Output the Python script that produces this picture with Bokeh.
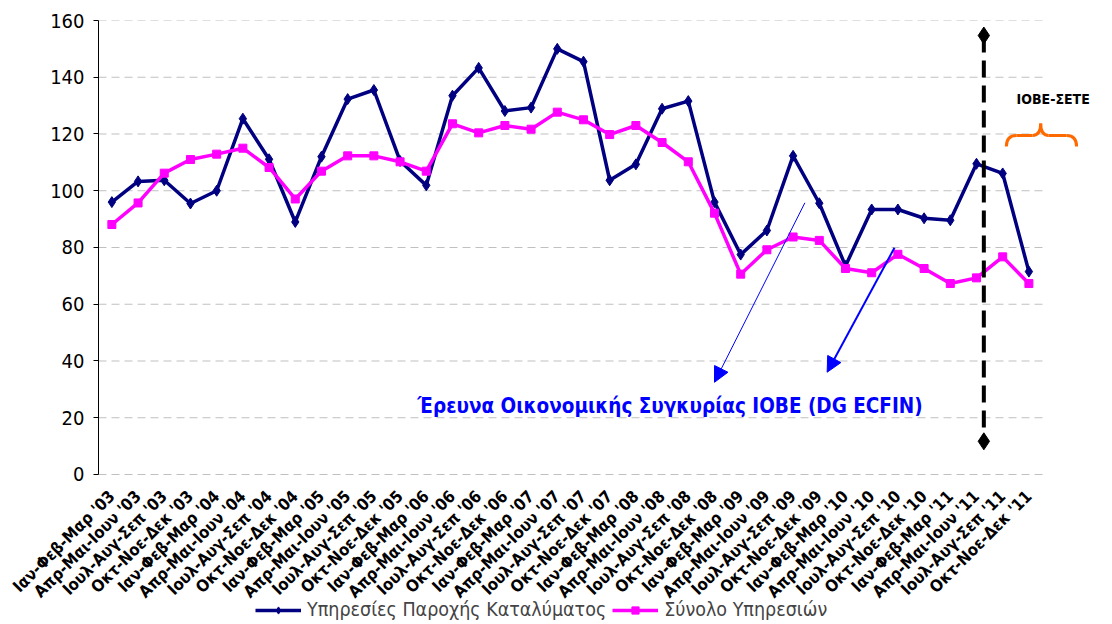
import math
from bokeh.plotting import figure
from bokeh.models import (FixedTicker, Legend, LegendItem, Arrow, NormalHead, Range1d)
from bokeh.core.properties import value
from bokeh.embed import file_html
from bokeh.resources import INLINE

# ---------------- data ----------------
quarters = ["Ιαν-Φεβ-Μαρ", "Απρ-Μαι-Ιουν", "Ιουλ-Αυγ-Σεπ", "Οκτ-Νοε-Δεκ"]
years = ["03", "04", "05", "06", "07", "08", "09", "10", "11"]
categories = [f"{q} '{y}" for y in years for q in quarters]

accommodation = [96.0, 103.3, 103.7, 95.5, 100.0, 125.4, 111.1, 89.0, 112.0, 132.3,
                 135.5, 110.5, 101.9, 133.5, 143.3, 128.1, 129.3, 150.0, 145.5, 103.7,
                 109.3, 128.9, 131.6, 96.0, 77.5, 86.0, 112.3, 95.6, 73.5, 93.4,
                 93.4, 90.3, 89.6, 109.5, 106.1, 71.5]
services = [88.1, 95.7, 106.2, 111.0, 112.9, 115.0, 108.2, 97.1, 106.9, 112.3,
            112.3, 110.2, 106.9, 123.6, 120.4, 123.0, 121.7, 127.7, 125.0, 119.8,
            123.0, 117.0, 110.2, 92.1, 70.6, 79.2, 83.7, 82.5, 72.6, 71.1,
            77.6, 72.6, 67.3, 69.3, 76.7, 67.3]

series_names = ["Υπηρεσίες Παροχής Καταλύματος", "Σύνολο Υπηρεσιών"]
y_ticks = [0, 20, 40, 60, 80, 100, 120, 140, 160]
note_text = "Έρευνα Οικονομικής Συγκυρίας ΙΟΒΕ (DG ECFIN)"
iobe_sete_text = "ΙΟΒΕ-ΣΕΤΕ"

xs = list(range(len(categories)))

FONT = "DejaVu Sans Condensed"

# frame covers the plot plus the strip below it that holds the labels and legend
Y_BOTTOM = -52.16          # value at the bottom edge of the frame (legend strip)
p = figure(frame_width=998, frame_height=602, output_backend="svg", toolbar_location=None,
           x_range=Range1d(-0.51, 37.58), y_range=Range1d(Y_BOTTOM, 160),
           min_border_left=98, min_border_right=8, min_border_top=20,
           min_border_bottom=0)
p.outline_line_color = None
p.background_fill_color = "white"
p.border_fill_color = "white"
p.xgrid.visible = False
p.ygrid.visible = False

# dashed horizontal gridlines (ending before the annotation area)
p.segment(x0=[-0.51] * len(y_ticks), y0=y_ticks, x1=[35.53] * len(y_ticks), y1=y_ticks,
          line_color="#c0c0c0", line_width=1, line_dash="8 5")

# y axis
p.yaxis.ticker = FixedTicker(ticks=y_ticks)
p.yaxis.bounds = (0, 160)
p.yaxis.axis_line_color = "black"
p.yaxis.axis_line_width = 1
p.yaxis.major_tick_in = 0
p.yaxis.major_tick_out = 5
p.yaxis.minor_tick_line_color = None
p.yaxis.major_label_standoff = 9
p.yaxis.major_label_text_font = FONT
p.yaxis.major_label_text_font_size = "20px"
p.yaxis.major_label_text_color = "black"

# x axis (labels pulled up to sit just under the zero line)
p.xaxis.ticker = FixedTicker(ticks=xs)
p.xaxis.major_label_overrides = {i: c for i, c in zip(xs, categories)}
p.xaxis.axis_line_color = None
p.xaxis.major_tick_line_color = None
p.xaxis.minor_tick_line_color = None
p.xaxis.major_tick_out = 0
p.xaxis.major_tick_in = 0
p.xaxis.major_label_orientation = math.pi / 4
p.xaxis.major_label_standoff = -129
p.xaxis.major_label_text_font = FONT
p.xaxis.major_label_text_font_style = "bold"
p.xaxis.major_label_text_font_size = "16.5px"
p.xaxis.major_label_text_color = "black"

# series
l1 = p.line(xs, accommodation, line_color="#000080", line_width=3.5)
s1 = p.scatter(xs, accommodation, marker="diamond", size=11,
               fill_color="#000080", line_color="#000080")
l2 = p.line(xs, services, line_color="#ff00ff", line_width=3.5)
s2 = p.scatter(xs, services, marker="square", size=8,
               fill_color="#ff00ff", line_color="#ff00ff")

# vertical dashed separator
sep_x = 33.28
sep_y = [154.7, 11.7]
p.line([sep_x, sep_x], sep_y, line_color="black", line_width=4, line_dash="17 8")
p.scatter([sep_x, sep_x], sep_y, marker="diamond", size=17,
          fill_color="black", line_color="black")

# orange brace
brace_c = "#ff6a00"
p.quadratic(x0=[34.14, 35.14, 35.45, 36.44], y0=[115.6, 119.5, 123.7, 119.5],
            x1=[34.52, 35.45, 35.75, 36.82], y1=[119.5, 123.7, 119.5, 115.6],
            cx=[34.14, 35.45, 35.45, 36.82], cy=[119.5, 119.5, 119.5, 119.5],
            line_color=brace_c, line_width=3)
p.segment(x0=[34.52, 35.75], y0=[119.5, 119.5], x1=[35.14, 36.44], y1=[119.5, 119.5],
          line_color=brace_c, line_width=3)

p.text(x=[34.53], y=[132.2], text=[iobe_sete_text], text_font=value(FONT),
       text_font_style="bold", text_font_size="14px", text_color="black",
       text_baseline="middle", text_align="left")

# blue note and arrows
p.text(x=[11.66], y=[24.3], text=[note_text], text_font=value(FONT),
       text_font_style="bold", text_font_size="20.5px", text_color="#0000ff",
       text_baseline="middle", text_align="left")
p.add_layout(Arrow(end=NormalHead(size=15, fill_color="#0000ff", line_color="#0000ff"),
                   x_start=26.45, y_start=95.75, x_end=23.0, y_end=32.5,
                   line_color="#0000ff", line_width=1))
p.add_layout(Arrow(end=NormalHead(size=15, fill_color="#0000ff", line_color="#0000ff"),
                   x_start=29.87, y_start=79.9, x_end=27.3, y_end=36.05,
                   line_color="#0000ff", line_width=2))

legend = Legend(items=[LegendItem(label=series_names[0], renderers=[l1, s1]),
                       LegendItem(label=series_names[1], renderers=[l2, s2])],
                orientation="horizontal", location=(157, 1),
                border_line_color=None, background_fill_alpha=0,
                label_text_font=FONT, label_text_font_size="19.5px",
                label_height=18, glyph_height=18,
                glyph_width=46, label_standoff=6, spacing=6, padding=0, margin=0)
p.add_layout(legend)

open("out.html", "w").write(file_html(p, INLINE))
